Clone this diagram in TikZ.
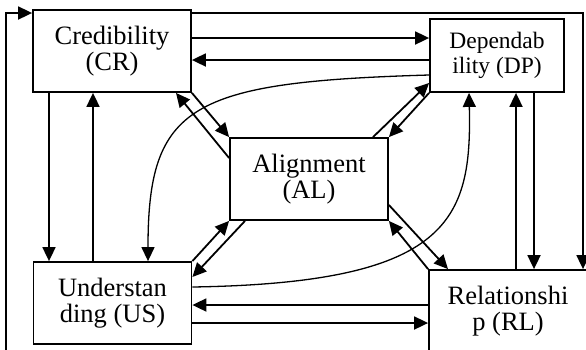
\documentclass[tikz,border=0pt]{standalone}
\usepackage{fontspec}
\setmainfont{Liberation Serif}
\usetikzlibrary{arrows.meta}

\begin{document}
\begin{tikzpicture}[x=1pt,y=-1pt,>={Triangle[length=14pt,width=13pt]},line width=1.8pt,
box/.style={draw,align=center,inner sep=0pt,minimum width=158pt,minimum height=82pt,font=\fontsize{26.5}{26.5}\selectfont}]
\useasboundingbox (0,0) rectangle (586,349);
\node[box] (cr) at (112,51) {Credibility\\(CR)};
\node[box,minimum width=134pt,minimum height=73pt,font=\fontsize{23.5}{25}\selectfont] (dp) at (497,55.5) {Dependab\\ility (DP)};
\node[box] (al) at (309,179) {Alignment\\(AL)};
\node[box] (us) at (112.5,303) {Understan\\ding (US)};
\node[box] (rl) at (508,311) {Relationshi\\p (RL)};
\coordinate (lb) at (6,352);\coordinate (tr) at (583,13);
\draw[->] (lb) |- (cr.west|-0,13);\draw[->] (cr.east|-0,13) -- (tr) -- (tr|-rl.north);
\draw[->] (cr.east|-0,38) -- (dp.west|-0,38);\draw[->] (dp.west|-0,60) -- (cr.east|-0,60);
\draw[->] (cr.south-|49,0) -- (us.north-|49,0);\draw[->] (us.north-|93,0) -- (cr.south-|93,0);
\draw[->] (rl.west|-0,305) -- (us.east|-0,305);\draw[->] (us.east|-0,323) -- (rl.west|-0,323);
\draw[->] (rl.north-|516,0) -- (dp.south-|516,0);\draw[->] (dp.south-|534,0) -- (rl.north-|534,0);
\draw[->] (cr.south east) -- (al.north west);\draw[->] (al.west|-0,158) -- (cr.south-|176,0);
\draw[->] (al.north-|373,0) -- (dp.west|-0,83);\draw[->] (dp.south west) -- (al.north east);
\draw[->] (us.north east) -- (al.south west);\draw[->] (al.south-|245,0) -- (us.east|-0,277);
\draw[->] (al.east|-0,205) -- (rl.north-|448,0);\draw[->] (rl.north west) -- (al.south east);
\draw[->,line width=1.3pt] (dp.west|-0,75) .. controls (190,82) and (148,105) .. (us.north-|148,0);
\draw[->,line width=1.3pt] (us.east|-0,287) .. controls (450,283) and (472,220) .. (dp.south-|469,0);
\end{tikzpicture}
\end{document}
